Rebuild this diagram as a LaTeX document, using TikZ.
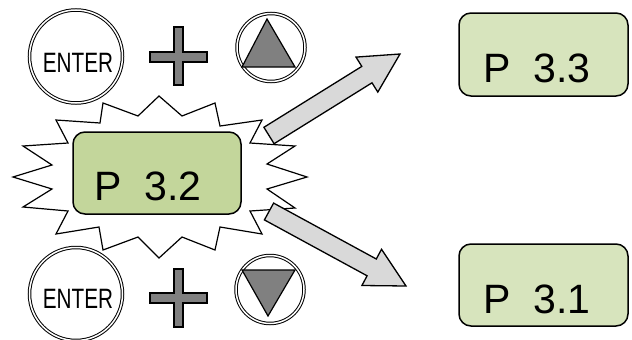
\documentclass[tikz,border=0pt]{standalone}
\usepackage{fontspec}
\usepackage{graphicx}
\setmainfont{Liberation Sans}
\definecolor{boxdark}{HTML}{C3D69B}
\definecolor{boxlight}{HTML}{D7E4BD}
\definecolor{arrowgray}{HTML}{D9D9D9}
\definecolor{keygray}{HTML}{808080}
\begin{document}
\begin{tikzpicture}[x=1pt,y=-1pt,
  pbox/.style={draw=black,line width=1.5pt,rounded corners=12pt},
  ptext/.style={anchor=base west,inner sep=0pt,font=\fontsize{41}{46}\selectfont},
  entertext/.style={anchor=base,inner sep=0pt,font=\fontsize{28}{32}\selectfont},
  dblring/.style={draw=black,line width=1pt,double=white,double distance=1.5pt},
  keyfill/.style={draw=black,line width=1.2pt,fill=keygray},
  bigarrow/.style={draw=black,line width=1.3pt,fill=arrowgray,line join=miter},
  burst/.style={draw=black,line width=1.2pt,fill=white,line join=miter}]
\useasboundingbox (0,0) rectangle (632,340);

% top key row
\draw[dblring] (76,56.5) circle (46.5);
\node[entertext] (ent1) at (78,72) {\scalebox{0.74}[1]{ENTER}};
\draw[keyfill] (174,27) -- (183,27) -- (183,52) -- (207,52) -- (207,62) -- (183,62) -- (183,85) -- (174,85) -- (174,62) -- (150,62) -- (150,52) -- (174,52) -- cycle;
\draw[dblring] (271,47.5) circle (34);
\draw[keyfill] (267,19) -- (295,67) -- (242,67) -- cycle;

% bottom key row
\draw[dblring] (76,294) circle (46.5);
\node[entertext] (ent2) at (78,308) {\scalebox{0.74}[1]{ENTER}};
\draw[keyfill] (174,269) -- (183,269) -- (183,293) -- (207,293) -- (207,303) -- (183,303) -- (183,327) -- (174,327) -- (174,303) -- (150,303) -- (150,293) -- (174,293) -- cycle;
\draw[dblring] (270,289.5) circle (34);
\draw[keyfill] (242,270) -- (295,270) -- (268,316) -- cycle;

% starburst
\draw[burst] (159,96) -- (182,116) -- (215,103) -- (220,126) -- (262,120) -- (250,143) -- (295,146) -- (267,164) -- (307,177) -- (267,189) -- (295,208) -- (250,211) -- (262,234) -- (220,227) -- (215,250) -- (182,237) -- (159,258) -- (138,237) -- (103,250) -- (99,227) -- (56,234) -- (68,211) -- (23,207) -- (52,189) -- (13,177) -- (52,165) -- (23,146) -- (68,143) -- (56,120) -- (100,123) -- (103,103) -- (138,116) -- cycle;

% boxes
\draw[pbox,fill=boxdark] (73,132) rectangle (241,214);
\node[ptext] (p32) at (94,200) {P\ \ 3.2};
\draw[pbox,fill=boxlight] (459,13) rectangle (628,96);
\node[ptext] (p33) at (483,82) {P\ \ 3.3};
\draw[pbox,fill=boxlight] (459,244) rectangle (628,326);
\node[ptext] (p31) at (483,313) {P\ \ 3.1};

% arrows
\draw[bigarrow] (274.1,143.7) -- (372.0,82.8) -- (377.8,92.1) -- (400,54) -- (356.0,57.1) -- (361.8,66.4) -- (263.9,127.3) -- cycle;
\draw[bigarrow] (264.4,219.9) -- (367.1,275.8) -- (361.9,285.5) -- (406,286) -- (381.5,249.3) -- (376.3,259.0) -- (273.6,203.1) -- cycle;
\end{tikzpicture}
\end{document}
